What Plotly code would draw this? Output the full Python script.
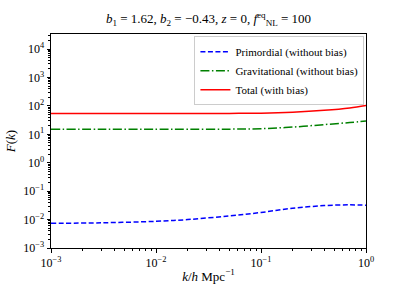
import plotly.graph_objects as go

k = [1e-3, 3e-3, 1e-2, 2e-2, 5e-2, 1e-1, 2e-1, 4e-1, 7e-1, 1.0]
primordial = [0.0074, 0.0077, 0.0087, 0.0100, 0.0135, 0.0178, 0.025, 0.031, 0.033, 0.032]
gravitational = [15.0, 15.0, 15.0, 15.0, 15.2, 15.8, 18.0, 22.0, 26.0, 29.5]
total = [54.0, 54.0, 54.0, 54.0, 54.5, 55.5, 60.0, 70.0, 85.0, 104.0]

xtickvals = [1e-3, 1e-2, 1e-1, 1e0]
xticktext = ["10<sup>−3</sup>", "10<sup>−2</sup>", "10<sup>−1</sup>", "10<sup>0</sup>"]
ytickvals = [1e-3, 1e-2, 1e-1, 1e0, 1e1, 1e2, 1e3, 1e4]
yticktext = ["10<sup>−3</sup>", "10<sup>−2</sup>", "10<sup>−1</sup>", "10<sup>0</sup>",
             "10<sup>1</sup>", "10<sup>2</sup>", "10<sup>3</sup>", "10<sup>4</sup>"]

font = "Liberation Serif, DejaVu Serif, serif"

fig = go.Figure()
fig.add_trace(go.Scatter(x=k, y=primordial, mode="lines", name="Primordial (without bias)",
                         line=dict(color="#0000ff", dash="5px,2.5px", width=1.5, shape="spline")))
fig.add_trace(go.Scatter(x=k, y=gravitational, mode="lines", name="Gravitational (without bias)",
                         line=dict(color="#008000", dash="9px,2.5px,1.5px,2.5px", width=1.5, shape="spline")))
fig.add_trace(go.Scatter(x=k, y=total, mode="lines", name="Total (with bias)",
                         line=dict(color="#ff0000", width=1.5, shape="spline")))

fig.update_layout(
    width=407, height=285,
    margin=dict(l=51, r=41, t=34, b=37, autoexpand=False),
    paper_bgcolor="white", plot_bgcolor="white",
    font=dict(family=font, size=12, color="black"),
    title=dict(text="<i>b</i><sub>1</sub> = 1.62, <i>b</i><sub>2</sub> = −0.43, <i>z</i> = 0, <i>f</i><sup>eq</sup><sub>NL</sub> = 100",
               x=0.5, xref="paper", xanchor="center", y=0.935, yanchor="middle",
               font=dict(size=13)),
    legend=dict(x=0.995, y=0.99, xanchor="right", yanchor="top",
                bgcolor="rgba(255,255,255,0.8)", bordercolor="#cccccc", borderwidth=1,
                font=dict(size=11), tracegroupgap=0, itemwidth=30),
    showlegend=True,
)
fig.update_xaxes(type="log", range=[-3, 0], tickvals=xtickvals, ticktext=xticktext,
                 ticks="outside", ticklen=3.5, tickwidth=0.8, tickcolor="black",
                 showline=True, linecolor="black", linewidth=1, mirror=True,
                 showgrid=False, zeroline=False, automargin=False,
                 minor=dict(ticks="outside", ticklen=2, tickwidth=0.6, tickcolor="black",
                            showgrid=False, dtick="D1"),
                 title=dict(text="<i>k</i>/<i>h</i> Mpc<sup>−1</sup>", standoff=2, font=dict(size=13)),
                 tickfont=dict(size=12))
fig.update_yaxes(type="log", range=[-3, 4.53], tickvals=ytickvals, ticktext=yticktext,
                 ticks="outside", ticklen=3.5, tickwidth=0.8, tickcolor="black",
                 showline=True, linecolor="black", linewidth=1, mirror=True,
                 showgrid=False, zeroline=False, automargin=False,
                 minor=dict(ticks="outside", ticklen=2, tickwidth=0.6, tickcolor="black",
                            showgrid=False, dtick="D1"),
                 title=dict(text="<i>F</i>(<i>k</i>)", standoff=4, font=dict(size=13)),
                 tickfont=dict(size=12))

fig.write_html("out.html", config={"displayModeBar": False},
               post_script="document.body.style.margin='0';")
